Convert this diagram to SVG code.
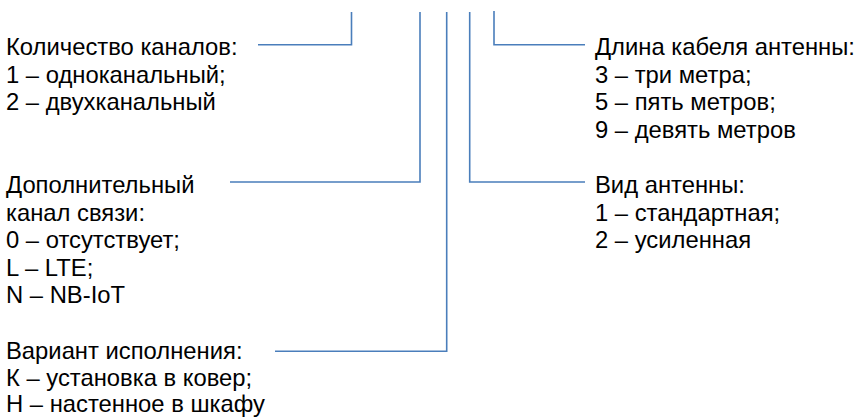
<svg xmlns="http://www.w3.org/2000/svg" width="861" height="417" viewBox="0 0 861 417">
  <style>
    .lbl { font-family: "Liberation Sans", Arial, sans-serif; font-size: 23.8px; fill: #000; }
    .lead { fill: none; stroke: #4A7EBB; stroke-width: 1.6; }
  </style>
  <rect width="861" height="417" fill="#fff"/>

  <!-- leader lines from the code positions to each field description -->
  <g id="connectors">
    <polyline class="lead" points="351.5,12 351.5,44.7 258,44.7"/>
    <polyline class="lead" points="420,12 420,182 230,182"/>
    <polyline class="lead" points="446.7,12 446.7,351.3 275,351.3"/>
    <polyline class="lead" points="469.7,12 469.7,182 585,182"/>
    <polyline class="lead" points="494,11 494,44.7 585,44.7"/>
  </g>

  <g id="channels">
    <text class="lbl" x="6" y="55">Количество каналов:</text>
    <text class="lbl" x="6" y="82.5">1 – одноканальный;</text>
    <text class="lbl" x="6" y="110">2 – двухканальный</text>
  </g>

  <g id="extra-link">
    <text class="lbl" x="6" y="193">Дополнительный</text>
    <text class="lbl" x="6" y="220.5">канал связи:</text>
    <text class="lbl" x="6" y="248">0 – отсутствует;</text>
    <text class="lbl" x="6" y="275.5">L – LTE;</text>
    <text class="lbl" x="6" y="303">N – NB-IoT</text>
  </g>

  <g id="version">
    <text class="lbl" x="6" y="359">Вариант исполнения:</text>
    <text class="lbl" x="6" y="386">К – установка в ковер;</text>
    <text class="lbl" x="6" y="412">Н – настенное в шкафу</text>
  </g>

  <g id="cable-length">
    <text class="lbl" x="595" y="55">Длина кабеля антенны:</text>
    <text class="lbl" x="595" y="82.5">3 – три метра;</text>
    <text class="lbl" x="595" y="110">5 – пять метров;</text>
    <text class="lbl" x="595" y="137.5">9 – девять метров</text>
  </g>

  <g id="antenna-type">
    <text class="lbl" x="595" y="193">Вид антенны:</text>
    <text class="lbl" x="595" y="220.5">1 – стандартная;</text>
    <text class="lbl" x="595" y="248">2 – усиленная</text>
  </g>
</svg>
